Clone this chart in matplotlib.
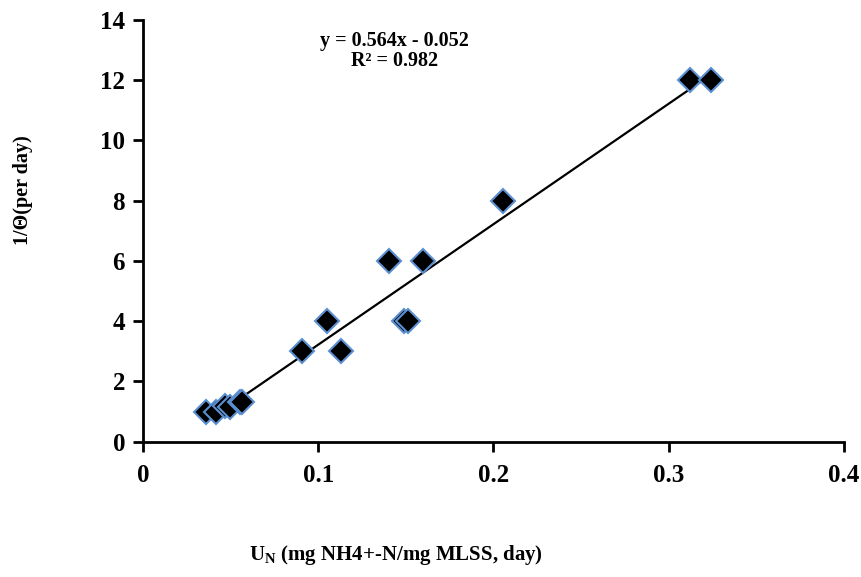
import numpy as np
import matplotlib
matplotlib.use("Agg")
import matplotlib.pyplot as plt

plt.rcParams['font.family'] = 'Liberation Serif'
plt.rcParams['font.weight'] = 'bold'
plt.rcParams['mathtext.fontset'] = 'custom'
plt.rcParams['mathtext.bf'] = 'Liberation Serif:bold'
plt.rcParams['mathtext.rm'] = 'Liberation Serif:bold'

# data
u_n = [0.0358, 0.0417, 0.0468, 0.0497, 0.0554, 0.0563, 0.0906, 0.105,
       0.1128, 0.1406, 0.149, 0.151, 0.160, 0.2055, 0.3122, 0.3242]
inv_theta = [1.0, 1.0, 1.2, 1.14, 1.33, 1.33, 3, 4, 3, 6, 4, 4, 6, 8, 12, 12]

x_ticks = [0, 0.1, 0.2, 0.3, 0.4]
x_labels = ['0', '0.1', '0.2', '0.3', '0.4']
y_ticks = [0, 2, 4, 6, 8, 10, 12, 14]

fig = plt.figure(figsize=(8.62, 5.77), dpi=100)
ax = fig.add_axes([0.166, 0.2345, 0.813, 0.731])

# linear trendline
k, b = np.polyfit(u_n, inv_theta, 1)
xs = np.array([min(u_n), max(u_n)])
ax.plot(xs, k * xs + b, color='black', lw=1.6, zorder=2)

ax.plot(u_n, inv_theta, 'D', ms=12.5, mfc='black', mec='#5B8FD0', mew=1.5,
        ls='none', zorder=3)

ax.set_xlim(0, 0.4)
ax.set_ylim(0, 14)
ax.set_xticks(x_ticks)
ax.set_xticklabels(x_labels)
ax.set_yticks(y_ticks)
for s in ['top', 'right']:
    ax.spines[s].set_visible(False)
for s in ['left', 'bottom']:
    ax.spines[s].set_linewidth(2)
ax.tick_params(direction='out', length=7, width=2, labelsize=18, pad=6)
ax.tick_params(axis='x', pad=9)

ax.text(0.1435, 13.3, 'y = 0.564x - 0.052', ha='center', va='center',
        fontsize=14.5, fontweight='bold')
ax.text(0.1435, 12.62, 'R² = 0.982', ha='center', va='center',
        fontsize=14.5, fontweight='bold')

fig.text(396 / 862, 1 - 555 / 577, r'U$_\mathbf{N}$ (mg NH4+-N/mg MLSS, day)',
         ha='center', va='center', fontsize=15, fontweight='bold')
fig.text(23 / 862, 1 - 190 / 577, '1/Θ(per day)', rotation=90,
         ha='center', va='center', fontsize=14.5, fontweight='bold')

fig.savefig('out.png', dpi=100)
